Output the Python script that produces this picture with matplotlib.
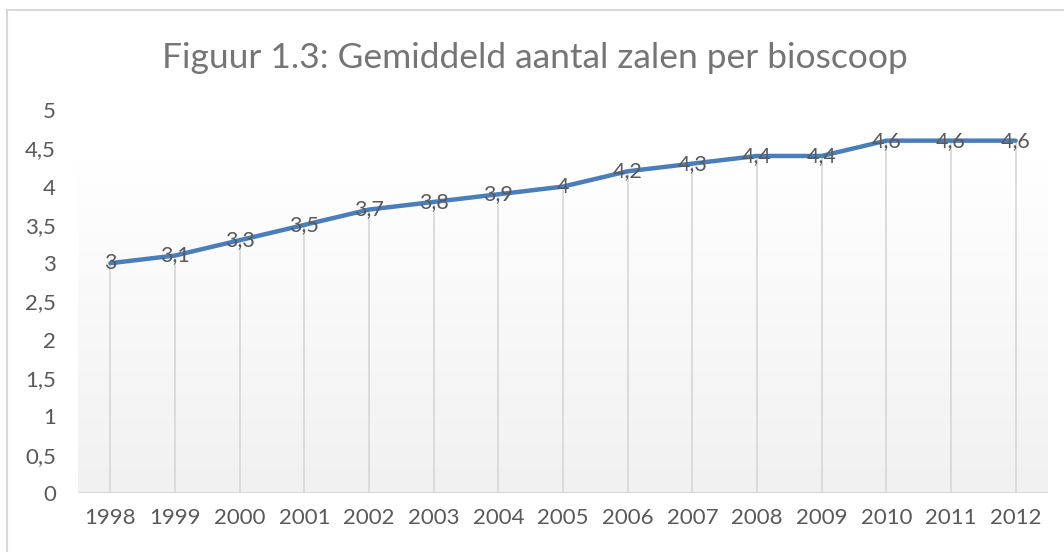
import numpy as np
from matplotlib import pyplot as plt
from matplotlib.lines import Line2D

years = ['1998', '1999', '2000', '2001', '2002', '2003', '2004', '2005',
         '2006', '2007', '2008', '2009', '2010', '2011', '2012']
zalen = [3, 3.1, 3.3, 3.5, 3.7, 3.8, 3.9, 4, 4.2, 4.3, 4.4, 4.4, 4.6, 4.6, 4.6]
yticks = [0, 0.5, 1, 1.5, 2, 2.5, 3, 3.5, 4, 4.5, 5]

plt.rcParams['font.family'] = ['Lato', 'DejaVu Sans']
W, H = 1064, 552
fig = plt.figure(figsize=(W / 100, H / 100), dpi=100)
fig.patch.set_facecolor('white')

# chart frame (only left and top edges visible)
fig.add_artist(Line2D([7 / W, 7 / W], [0, 1 - 10 / H], color='#d9d9d9', lw=1.5))
fig.add_artist(Line2D([7 / W, 1], [1 - 10 / H, 1 - 10 / H], color='#d9d9d9', lw=1.5))

left, right, top, bottom = 78, 1048, 110, 493
ax = fig.add_axes([left / W, 1 - bottom / H, (right - left) / W, (bottom - top) / H])
x = np.arange(len(years))
ax.set_xlim(-0.5, len(years) - 0.5)
ax.set_ylim(0, 5)

# gradient fill of the plot area
grad_top = (bottom - 160) / (bottom - top)
grad = np.linspace(1.0, 0.0, 256).reshape(-1, 1)
c_top = np.array([1.0, 1.0, 1.0])
c_bot = np.array([0.945, 0.945, 0.945])
img = c_bot + (c_top - c_bot) * grad[:, :, None]
img = np.repeat(img, 2, axis=1)
ax.imshow(img, extent=[-0.5, len(years) - 0.5, 0, 5 * grad_top],
          aspect='auto', zorder=0)

# drop lines
ax.vlines(x, 0, zalen, color='#d9d9d9', lw=1.3, zorder=1)
ax.axhline(0, color='#d9d9d9', lw=1.5, zorder=1)

ax.plot(x, zalen, color='#4a7ebb', lw=3.2, solid_capstyle='round',
        solid_joinstyle='round', zorder=3)

for xi, v in zip(x, zalen):
    ax.text(xi, v, f'{v:g}'.replace('.', ','), ha='center', va='center',
            fontsize=15.5, color='#595959', zorder=4)

for s in ax.spines.values():
    s.set_visible(False)
ax.set_xticks(x)
ax.set_xticklabels(years)
ax.set_yticks(yticks)
ax.set_yticklabels([f'{t:g}'.replace('.', ',') for t in yticks])
ax.tick_params(length=0, labelsize=16, colors='#595959')
ax.tick_params(axis='x', pad=11)
ax.tick_params(axis='y', pad=16)

fig.text(535 / W, 1 - 58 / H, 'Figuur 1.3: Gemiddeld aantal zalen per bioscoop',
         ha='center', va='center', fontsize=25.5, color='#757575')

fig.savefig('out.png', dpi=100, facecolor='white')
